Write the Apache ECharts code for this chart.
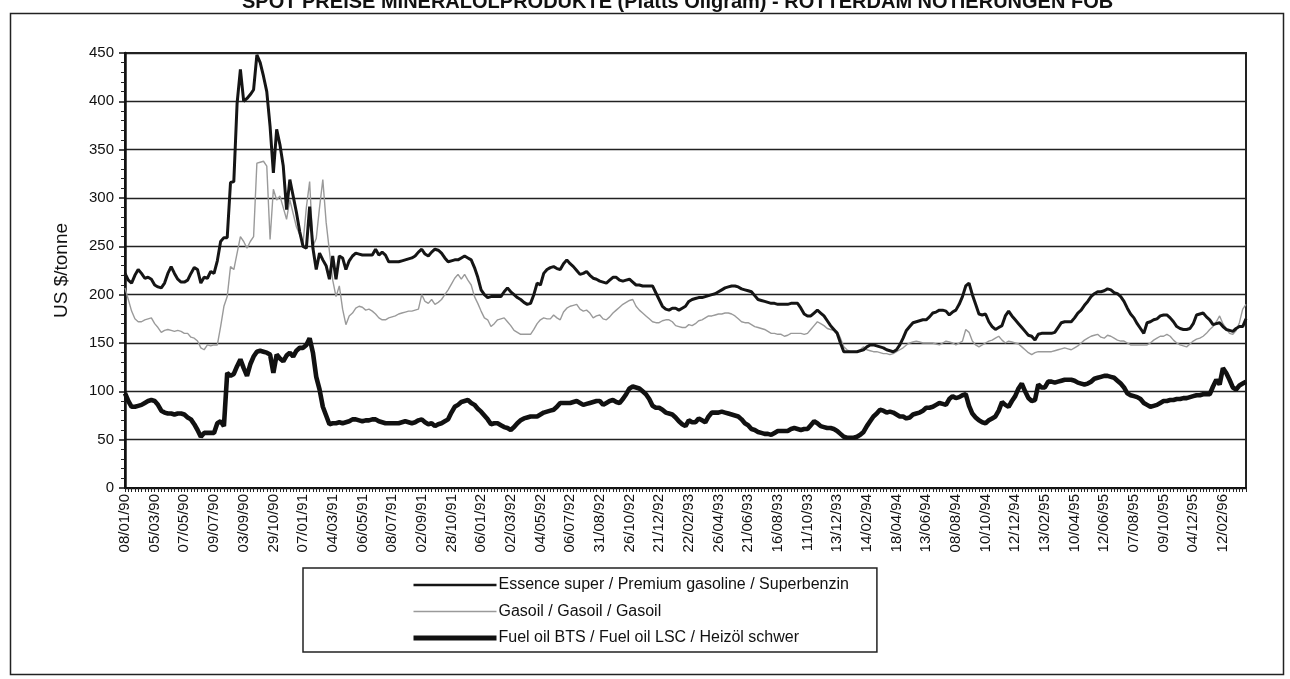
<!DOCTYPE html>
<html>
<head>
<meta charset="utf-8">
<script src="https://cdn.jsdelivr.net/npm/echarts@6/dist/echarts.min.js"></script>
<style>
html,body{margin:0;padding:0;background:#fff;}
#chart{width:1290px;height:679px;}
</style>
</head>
<body>
<div id="chart"></div>
<script>
// Tick labels (every 9th weekly observation)
const tickLabels = ["08/01/90","05/03/90","07/05/90","09/07/90","03/09/90","29/10/90","07/01/91","04/03/91","06/05/91","08/07/91","02/09/91","28/10/91","06/01/92","02/03/92","04/05/92","06/07/92","31/08/92","26/10/92","21/12/92","22/02/93","26/04/93","21/06/93","16/08/93","11/10/93","13/12/93","14/02/94","18/04/94","13/06/94","08/08/94","10/10/94","12/12/94","13/02/95","10/04/95","12/06/95","07/08/95","09/10/95","04/12/95","12/02/96"];

// Essence super / Premium gasoline / Superbenzin (US $/tonne)
const gasoline = [
222,215,212,220,226,222,217,218,216,210,
208,207,212,222,229,222,216,213,213,215,
222,228,226,212,218,217,224,222,235,255,
259,259,316,317,398,433,400,403,407,412,
448,440,426,410,374,326,371,355,333,288,
319,302,285,265,250,248,291,248,226,243,
236,230,216,240,216,240,238,226,235,240,
243,242,241,241,241,241,247,241,244,241,
234,234,234,234,235,236,237,238,240,244,
247,242,240,244,247,246,243,238,234,235,
236,236,238,240,238,236,228,218,205,200,
197,198,198,198,198,203,207,203,200,197,
195,192,190,191,200,212,210,222,226,228,
229,227,226,232,236,232,229,225,221,222,
224,220,217,216,214,213,212,215,218,218,
215,214,215,216,213,210,210,209,209,209,
209,202,195,188,185,184,186,186,184,186,
188,193,195,196,197,197,198,199,200,201,
203,205,207,208,209,209,208,206,205,204,
203,199,195,194,193,192,191,191,190,190,
190,190,191,191,191,186,180,178,178,181,
184,181,178,173,168,164,160,150,141,141,
141,141,141,142,143,146,148,148,147,146,
145,143,142,141,143,148,155,163,167,171,
172,173,174,174,177,181,182,184,184,183,
179,182,184,190,198,209,212,200,190,180,
179,180,172,167,164,166,168,178,183,178,
174,170,166,162,158,157,153,159,160,160,
160,160,161,166,171,172,172,172,176,181,
184,189,193,198,201,203,203,204,206,205,
202,201,198,193,186,180,176,170,165,160,
171,172,174,175,178,179,179,176,172,167,
165,164,164,165,170,179,180,181,177,174,
169,170,171,167,164,163,162,165,167,167,175];

// Gasoil / Gasoil / Gasoil
const gasoil = [
207,195,183,175,172,172,174,175,176,170,
166,161,163,164,163,162,163,162,160,160,
156,155,152,145,143,148,147,148,148,167,
188,198,229,226,243,260,255,248,255,260,
336,337,338,333,257,309,298,302,290,278,
298,284,270,262,253,290,317,250,258,290,
319,275,245,215,198,209,185,169,178,181,
186,188,187,184,185,183,180,176,174,174,
176,177,178,180,181,182,183,183,184,185,
200,193,191,195,190,192,195,200,205,211,
217,221,216,221,215,210,198,191,183,176,
174,167,170,174,175,176,172,168,163,161,
159,159,159,159,164,170,174,176,175,175,
179,176,174,182,186,188,189,190,185,183,
184,181,176,178,179,175,174,177,181,184,
187,190,192,194,195,188,184,181,178,175,
172,171,171,173,174,174,172,168,167,166,
166,169,168,170,173,174,176,178,178,179,
180,180,181,181,180,178,175,172,171,171,
169,167,166,165,164,162,160,160,159,159,
157,158,160,160,160,160,159,160,164,168,
172,170,168,165,164,163,162,155,146,143,
141,141,141,143,146,143,142,141,141,140,
139,139,138,139,141,143,145,148,150,151,
152,151,150,150,150,150,149,148,150,152,
151,150,148,150,152,164,161,152,148,146,
148,150,152,153,155,157,153,150,152,151,
150,149,146,143,140,138,140,141,141,141,
141,141,142,143,144,145,144,143,145,147,
150,153,155,157,158,159,156,155,158,157,
155,153,152,152,150,148,148,148,148,148,
148,150,153,155,157,157,159,157,153,150,
148,147,146,149,152,154,155,157,160,164,
167,172,178,170,165,160,159,163,171,185,190];

// Fuel oil BTS / Fuel oil LSC / Heizöl schwer
const fueloil = [
98,90,84,84,85,86,88,90,91,90,
86,80,78,77,77,76,77,77,76,73,
71,66,60,53,57,57,57,57,67,69,
64,119,116,118,126,133,124,116,128,136,
141,142,141,140,138,119,138,134,131,137,
140,136,142,145,145,148,155,140,115,102,
84,75,66,67,67,68,67,68,69,71,
71,70,69,70,70,71,71,69,68,67,
67,67,67,67,68,69,68,67,68,70,
71,68,66,67,64,66,67,69,71,78,
84,86,89,90,91,88,86,82,79,75,
71,66,67,67,65,63,62,60,63,67,
70,72,73,74,74,74,76,78,79,80,
81,84,88,88,88,88,89,90,88,86,
87,88,89,90,90,86,88,90,91,89,
88,92,97,103,105,104,103,100,97,92,
85,83,83,81,78,77,76,73,69,66,
64,70,68,68,72,70,68,74,78,78,
78,79,78,77,76,75,74,71,67,65,
61,60,58,57,56,56,55,57,59,59,
59,59,61,62,61,60,61,61,65,69,
67,64,63,62,62,61,59,56,53,52,
52,52,53,55,58,64,69,74,77,81,
80,78,79,78,76,74,74,72,73,76,
77,78,80,83,83,84,86,88,87,86,
92,95,93,94,96,97,85,77,73,70,
68,67,70,72,74,80,89,86,84,90,
95,103,108,100,93,90,91,107,104,104,
110,110,109,110,111,112,112,112,111,109,
108,107,108,110,113,114,115,116,116,115,
114,111,108,104,98,96,95,94,92,88,
86,84,85,86,88,90,90,91,91,92,
92,93,93,94,95,96,96,97,97,97,
105,112,107,124,119,112,104,102,106,108,110];

const seriesNames = [
  "Essence super / Premium gasoline / Superbenzin",
  "Gasoil / Gasoil / Gasoil",
  "Fuel oil BTS / Fuel oil LSC / Heizöl schwer"
];

// Build weekly categories: each tick label followed by weekly dates
function pad(n){return (n<10?'0':'')+n;}
function addWeeks(lbl, w){
  const p = lbl.split('/');
  const d = new Date(Date.UTC(1900 + (+p[2]), +p[1]-1, +p[0]));
  d.setUTCDate(d.getUTCDate() + 7*w);
  return pad(d.getUTCDate())+'/'+pad(d.getUTCMonth()+1)+'/'+pad(d.getUTCFullYear()%100);
}
const categories = [];
for (let i = 0; i < gasoline.length; i++) {
  const k = Math.min(Math.floor(i / 9), tickLabels.length - 1);
  const j = i - 9 * k;
  categories.push(j === 0 ? tickLabels[k] : addWeeks(tickLabels[k], j));
}

const FONT = 'Liberation Sans, Arial, sans-serif';
const chart = echarts.init(document.getElementById('chart'), null, {renderer: 'canvas'});
chart.setOption({
  backgroundColor: '#ffffff',
  animation: false,
  title: {
    text: 'SPOT PREISE MINERALÖLPRODUKTE (Platts Oilgram) - ROTTERDAM NOTIERUNGEN FOB',
    left: 237,
    top: -13,
    textStyle: {fontFamily: FONT, fontSize: 20, fontWeight: 'bold', color: '#111'}
  },
  graphic: [{
    type: 'rect', left: 8, top: 11, silent: true,
    shape: {width: 1273, height: 661},
    style: {fill: 'none', stroke: '#222', lineWidth: 1.5}
  }],
  legend: {
    orient: 'vertical',
    left: 303, top: 568,
    padding: [9, 28, 6, 108],
    itemWidth: 83, itemHeight: 14, itemGap: 10.5,
    borderColor: '#222', borderWidth: 1.5, borderRadius: 0,
    backgroundColor: '#fff',
    itemStyle: {opacity: 0},
    textStyle: {fontFamily: FONT, fontSize: 16, color: '#111', padding: [0,0,0,-3]},
    data: [
      {name: seriesNames[0], lineStyle: {width: 2.6, color: '#151515'}},
      {name: seriesNames[1], lineStyle: {width: 1.5, color: '#9a9a9a'}},
      {name: seriesNames[2], lineStyle: {width: 5, color: '#111'}}
    ]
  },
  grid: {
    left: 125, right: 44, top: 53, bottom: 191,
    show: true, borderColor: '#222', borderWidth: 2, backgroundColor: 'transparent'
  },
  xAxis: {
    type: 'category',
    data: categories,
    boundaryGap: false,
    axisLine: {lineStyle: {color: '#111', width: 2}},
    axisTick: {show: true, interval: 0, length: 4, lineStyle: {color: '#222', width: 1}},
    axisLabel: {rotate: 90, interval: 8, fontFamily: FONT, fontSize: 15, color: '#111', margin: 6},
    splitLine: {show: false}
  },
  yAxis: {
    type: 'value',
    min: 0, max: 450, interval: 50,
    name: 'US $/tonne',
    nameLocation: 'middle',
    nameRotate: 90,
    nameGap: 54,
    nameTextStyle: {fontFamily: FONT, fontSize: 19, color: '#111'},
    axisLine: {show: true, lineStyle: {color: '#111', width: 2.5}},
    axisTick: {show: true, length: 6, lineStyle: {color: '#111', width: 1.5}},
    minorTick: {show: true, splitNumber: 5, length: 4, lineStyle: {color: '#222', width: 1}},
    axisLabel: {fontFamily: FONT, fontSize: 15, color: '#111', margin: 11},
    splitLine: {show: true, lineStyle: {color: '#222', width: 1.3}}
  },
  series: [
    {name: seriesNames[0], type: 'line', data: gasoline, symbol: 'none', showSymbol: false,
     lineStyle: {color: '#151515', width: 3}, itemStyle: {color: '#151515'}, z: 3},
    {name: seriesNames[1], type: 'line', data: gasoil, symbol: 'none', showSymbol: false,
     lineStyle: {color: '#9a9a9a', width: 1.4}, itemStyle: {color: '#9a9a9a'}, z: 2},
    {name: seriesNames[2], type: 'line', data: fueloil, symbol: 'none', showSymbol: false,
     lineStyle: {color: '#111', width: 4.6}, itemStyle: {color: '#111'}, z: 4}
  ]
});
</script>
</body>
</html>
